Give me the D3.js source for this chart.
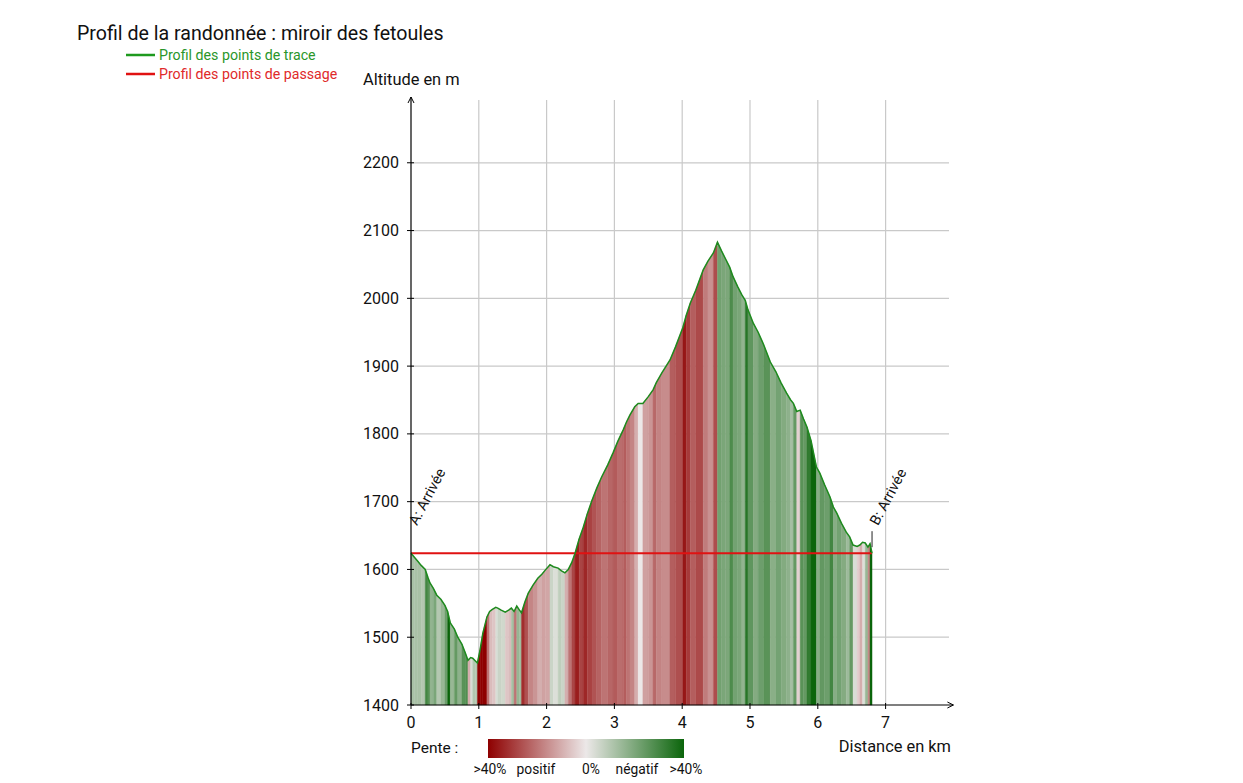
<!DOCTYPE html>
<html>
<head>
<meta charset="utf-8">
<script src="https://cdn.jsdelivr.net/npm/d3@7"></script>
<style>
  body { margin: 0; background: #fff; }
  text { font-family: Roboto, "Noto Sans", sans-serif; }
</style>
</head>
<body>
<div id="container"></div>
<script>
const distances = [0.00,0.05,0.10,0.15,0.21,0.25,0.28,0.33,0.38,0.44,0.50,0.54,0.58,0.64,0.69,0.75,0.80,0.84,0.88,0.91,0.95,0.98,
  1.02,1.06,1.12,1.16,1.20,1.25,1.28,1.33,1.39,1.44,1.48,1.52,1.56,1.60,1.63,1.68,1.73,1.80,1.87,1.93,1.98,
  2.05,2.10,2.17,2.22,2.27,2.32,2.37,2.42,2.48,2.54,2.60,2.67,2.74,2.81,2.90,2.98,
  3.05,3.13,3.18,3.23,3.30,3.35,3.42,3.50,3.57,3.62,3.70,3.82,3.90,
  4.01,4.06,4.12,4.20,4.31,4.38,4.46,4.52,4.58,4.64,4.70,4.75,4.82,4.88,4.93,4.97,
  5.05,5.12,5.20,5.30,5.38,5.46,5.54,5.60,5.64,5.69,5.74,5.79,5.84,5.90,5.98,
  6.03,6.10,6.18,6.23,6.28,6.35,6.42,6.47,6.52,6.58,6.62,6.66,6.70,6.74,6.77,6.80]
const altitudes = [1624,1618,1612,1606,1600,1588,1580,1572,1562,1556,1547,1538,1521,1512,1500,1490,1477,1466,1470,1469,1465,1462,
  1482,1506,1530,1538,1541,1544,1543,1540,1537,1540,1543,1538,1546,1540,1536,1552,1565,1577,1587,1593,1599,
  1607,1604,1602,1598,1595,1600,1610,1624,1645,1662,1682,1702,1720,1736,1754,1772,
  1789,1806,1818,1828,1840,1845,1845,1855,1865,1876,1890,1909,1928,
  1957,1975,1993,2012,2042,2055,2067,2083,2070,2058,2046,2032,2017,2005,1997,1983,
  1963,1950,1932,1906,1892,1875,1860,1850,1845,1833,1835,1822,1810,1790,1751,
  1742,1725,1707,1692,1683,1668,1655,1648,1636,1634,1636,1640,1639,1633,1638,1624]

// waypoints (passage profile)
const waypointNames = ["A: Arrivée", "B: Arrivée"]
const waypointDist = [0, 6.80]
const waypointAlt = [1624, 1624]

const xTicks = [0,1,2,3,4,5,6,7]
const yTicks = [1400,1500,1600,1700,1800,1900,2000,2100,2200]
const slopeStops = [40, 0, -40]
const legendLabels = [">40%", "positif", "0%", "négatif", ">40%"]

const width = 1243, height = 783

let svg = d3.select("#container")
    .append("svg")
    .attr("width", width)
    .attr("height", height)

let x = d3.scaleLinear().domain([0, 8]).range([411, 953.4])
let y = d3.scaleLinear().domain([1400, 2300]).range([705, 95])
const gridTop = 100, gridRight = 949

let color = d3.scaleLinear()
    .domain(slopeStops)
    .range(["#8e0000", "#ece8e8", "#0b650b"])
    .clamp(true)

//title and legend
svg.append("text").attr("x", 77).attr("y", 40)
    .attr("font-size", 19.6).attr("fill", "#111")
    .text("Profil de la randonnée : miroir des fetoules")

const legend = [["Profil des points de trace", "#1e9a1e", "#2a962a", 55],
                ["Profil des points de passage", "#e01212", "#e02a2a", 74]]
legend.forEach(l => {
    svg.append("line").attr("x1", 126).attr("x2", 155).attr("y1", l[3]).attr("y2", l[3])
        .attr("stroke", l[1]).attr("stroke-width", 2.5)
    svg.append("text").attr("x", 159).attr("y", l[3] + 4.5)
        .attr("font-size", 14.2).attr("fill", l[2]).text(l[0])
})

//grid
svg.append("g").selectAll("line").data(xTicks.slice(1)).enter().append("line")
    .attr("x1", d => x(d)).attr("x2", d => x(d))
    .attr("y1", gridTop).attr("y2", y(1400))
    .attr("stroke", "#c9c9c9").attr("stroke-width", 1.2)
svg.append("g").selectAll("line").data(yTicks.slice(1)).enter().append("line")
    .attr("x1", x(0)).attr("x2", gridRight)
    .attr("y1", d => y(d)).attr("y2", d => y(d))
    .attr("stroke", "#c9c9c9").attr("stroke-width", 1.2)

//slope coloured fill, one piece per segment
let pts = distances.map((d, i) => [d, altitudes[i]])
let area = d3.area().x(d => x(d[0])).y0(y(1400)).y1(d => y(d[1]))
let segs = d3.pairs(pts)
const slope = d => (d[1][1] - d[0][1]) / ((d[1][0] - d[0][0]) * 1000) * 100
svg.append("g").selectAll("path").data(segs).enter().append("path")
    .attr("d", d => area(d))
    .attr("fill", d => color(slope(d)))
    .attr("stroke", d => color(slope(d)))
    .attr("stroke-width", 0.4)

//passage profile
let line = d3.line().x(d => x(d[0])).y(d => y(d[1]))
svg.append("path")
    .datum(waypointDist.map((d, i) => [d, waypointAlt[i]]))
    .attr("d", line).attr("fill", "none")
    .attr("stroke", "#e01212").attr("stroke-width", 2)

//track profile
svg.append("path").datum(pts).attr("d", line).attr("fill", "none")
    .attr("stroke", "#1e8a1e").attr("stroke-width", 1.5)

//axes
const axisCol = "#000"
svg.append("line").attr("x1", x(0)).attr("x2", x(8)).attr("y1", y(1400)).attr("y2", y(1400))
    .attr("stroke", axisCol).attr("stroke-width", 1.2)
svg.append("path").attr("d", `M${x(8)-6},${y(1400)-3} L${x(8)},${y(1400)} L${x(8)-6},${y(1400)+3}`)
    .attr("fill", "none").attr("stroke", axisCol)
svg.append("line").attr("x1", x(0)).attr("x2", x(0)).attr("y1", y(1400)).attr("y2", 97)
    .attr("stroke", axisCol).attr("stroke-width", 1.2)
svg.append("path").attr("d", `M${x(0)-3},103 L${x(0)},97 L${x(0)+3},103`)
    .attr("fill", "none").attr("stroke", axisCol)

svg.append("g").selectAll("line").data(xTicks).enter().append("line")
    .attr("x1", d => x(d)).attr("x2", d => x(d)).attr("y1", y(1400) - 2).attr("y2", y(1400) + 4)
    .attr("stroke", axisCol)
svg.append("g").selectAll("text").data(xTicks).enter().append("text")
    .attr("x", d => x(d)).attr("y", 728).attr("text-anchor", "middle")
    .attr("font-size", 16).attr("fill", "#111").text(d => d)

svg.append("g").selectAll("line").data(yTicks).enter().append("line")
    .attr("x1", x(0) - 4).attr("x2", x(0) + 3).attr("y1", d => y(d)).attr("y2", d => y(d))
    .attr("stroke", axisCol)
svg.append("g").selectAll("text").data(yTicks).enter().append("text")
    .attr("x", 399).attr("y", d => y(d) + 5.5).attr("text-anchor", "end")
    .attr("font-size", 16).attr("fill", "#111").text(d => d)

svg.append("text").attr("x", 363).attr("y", 85).attr("font-size", 16.4).attr("fill", "#111")
    .text("Altitude en m")
svg.append("text").attr("x", 951).attr("y", 752).attr("text-anchor", "end")
    .attr("font-size", 16.4).attr("fill", "#111").text("Distance en km")

//waypoint labels
waypointNames.forEach((n, i) => {
    let px = x(waypointDist[i]), py = y(waypointAlt[i])
    if (i > 0) svg.append("line").attr("x1", px).attr("x2", px).attr("y1", py - 6).attr("y2", py - 22)
        .attr("stroke", "#222")
    svg.append("text").attr("transform", `translate(${px + 6},${py - 27}) rotate(-62)`)
        .attr("font-size", 14.5).attr("fill", "#111").text(n)
})

//slope legend
let defs = svg.append("defs")
let grad = defs.append("linearGradient").attr("id", "pente")
slopeStops.forEach((s, i) => {
    grad.append("stop").attr("offset", (i / (slopeStops.length - 1) * 100) + "%")
        .attr("stop-color", color(s))
})
svg.append("text").attr("x", 411).attr("y", 753).attr("font-size", 15.5).attr("fill", "#111")
    .text("Pente :")
svg.append("rect").attr("x", 488).attr("y", 739).attr("width", 196).attr("height", 19)
    .attr("fill", "url(#pente)")
const legendX = [490, 536, 591, 637, 686]
svg.append("g").selectAll("text").data(legendLabels).enter().append("text")
    .attr("x", (d, i) => legendX[i]).attr("y", 774).attr("text-anchor", "middle")
    .attr("font-size", 13.8).attr("fill", "#111").text(d => d)
</script>
</body>
</html>
